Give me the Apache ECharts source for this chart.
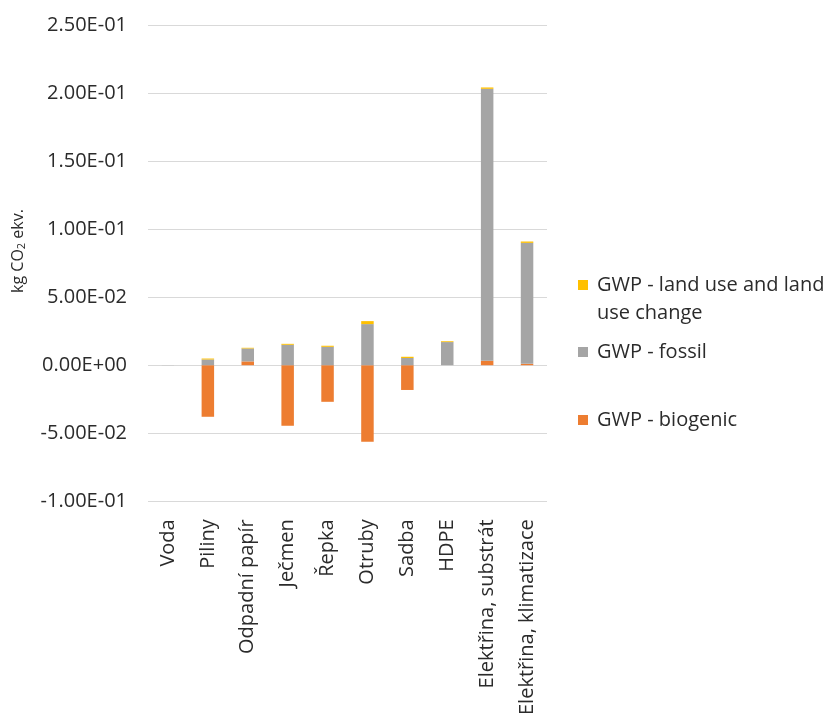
<!DOCTYPE html>
<html>
<head>
<meta charset="utf-8">
<title>GWP</title>
<script src="https://cdn.jsdelivr.net/npm/echarts@6/dist/echarts.min.js"></script>
<style>
  html, body { margin: 0; padding: 0; background: #fff; }
  #chart { width: 827px; height: 718px; }
</style>
</head>
<body>
<div id="chart"></div>
<script>
// Categories (inputs of the process)
const categories = ['Voda', 'Piliny', 'Odpadní papír', 'Ječmen', 'Řepka', 'Otruby', 'Sadba', 'HDPE', 'Elektřina, substrát', 'Elektřina, klimatizace'];

// GWP contributions, kg CO2 ekv.
const gwpBiogenic = [0, -0.0379, 0.0028, -0.0445, -0.0269, -0.0562, -0.0182, 0, 0.0033, 0.0010];
const gwpFossil   = [0.0001, 0.0042, 0.0095, 0.0150, 0.0135, 0.0302, 0.0053, 0.0170, 0.1998, 0.0889];
const gwpLuluc    = [0, 0.0007, 0.0005, 0.0007, 0.0008, 0.0022, 0.0009, 0.0006, 0.0010, 0.0010];

// Series names
const nameLuluc = 'GWP - land use and land use change';
const nameFossil = 'GWP - fossil';
const nameBiogenic = 'GWP - biogenic';

// Value axis range
const yMin = -0.1;
const yMax = 0.25;
const yStep = 0.05;

const FONT = '"Open Sans", "DejaVu Sans", sans-serif';
const TEXT_COLOR = '#2b2b2b';

// Excel-like scientific notation: 2.50E-01
function sci(v) {
  const s = Number(v).toExponential(2);
  const parts = s.split('e');
  const n = parseInt(parts[1], 10);
  return parts[0] + 'E' + (n < 0 ? '-' : '+') + String(Math.abs(n)).padStart(2, '0');
}

const chart = echarts.init(document.getElementById('chart'), null, { renderer: 'canvas' });

const legendText = {
  fontFamily: FONT,
  fontSize: 20,
  color: TEXT_COLOR,
  lineHeight: 28,
  padding: [0, 0, 0, 4]
};

function legendFor(name, top, label) {
  const lg = {
    orient: 'vertical',
    left: 578,
    top: top,
    padding: 0,
    itemWidth: 10,
    itemHeight: 10,
    icon: 'rect',
    selectedMode: false,
    data: [name],
    textStyle: legendText
  };
  if (label) lg.formatter = () => label;
  return lg;
}

chart.setOption({
  animation: false,
  backgroundColor: '#ffffff',
  grid: { left: 148, right: 280, top: 25, bottom: 214, containLabel: false },
  xAxis: {
    type: 'category',
    data: categories,
    axisLine: { show: false },
    axisTick: { show: false },
    axisLabel: {
      rotate: 90,
      margin: 18,
      interval: 0,
      fontFamily: FONT,
      fontSize: 20,
      color: TEXT_COLOR
    }
  },
  yAxis: {
    type: 'value',
    min: yMin,
    max: yMax,
    interval: yStep,
    axisLine: { show: false },
    axisTick: { show: false },
    splitLine: { lineStyle: { color: '#d9d9d9', width: 1 } },
    axisLabel: {
      margin: 21,
      fontFamily: FONT,
      fontSize: 20,
      color: TEXT_COLOR,
      formatter: sci
    }
  },
  legend: [
    // leading blank line keeps the marker level with the first line of the wrapped label
    legendFor(nameLuluc, 243, '\nGWP - land use and land\nuse change'),
    legendFor(nameFossil, 338),
    legendFor(nameBiogenic, 406)
  ],
  graphic: [
    {
      type: 'text',
      x: 18,
      y: 251,
      rotation: Math.PI / 2,
      style: {
        text: 'kg CO{sub|2} ekv.',
        fontFamily: FONT,
        fontSize: 16,
        fill: TEXT_COLOR,
        align: 'center',
        verticalAlign: 'middle',
        rich: {
          sub: { fontFamily: FONT, fontSize: 11, fill: TEXT_COLOR, padding: [8, 0, 0, 0] }
        }
      }
    }
  ],
  series: [
    {
      name: nameBiogenic,
      type: 'bar',
      stack: 'gwp',
      barWidth: 12.5,
      data: gwpBiogenic,
      itemStyle: { color: '#ED7D31' }
    },
    {
      name: nameFossil,
      type: 'bar',
      stack: 'gwp',
      barWidth: 12.5,
      data: gwpFossil,
      itemStyle: { color: '#A5A5A5' }
    },
    {
      name: nameLuluc,
      type: 'bar',
      stack: 'gwp',
      barWidth: 12.5,
      data: gwpLuluc,
      itemStyle: { color: '#FFC000' }
    }
  ]
});
</script>
</body>
</html>
